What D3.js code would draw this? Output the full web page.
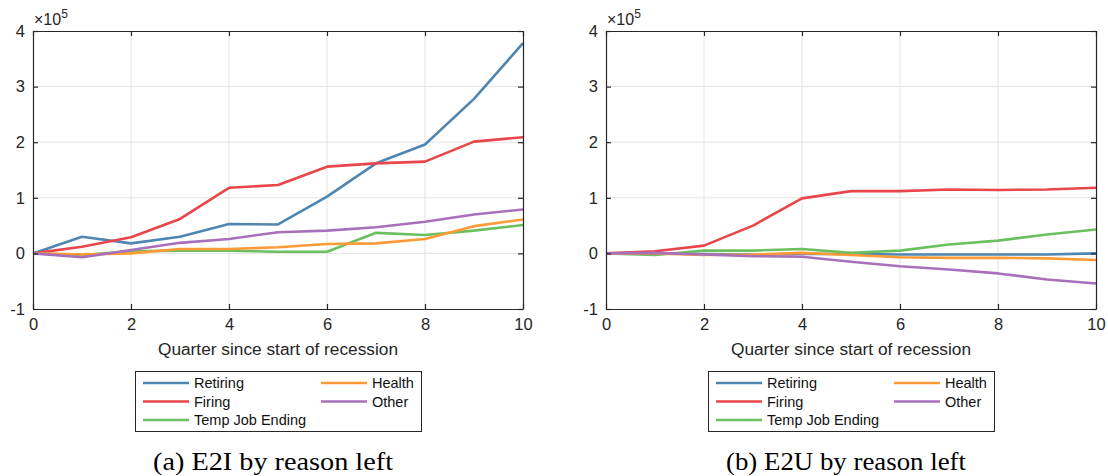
<!DOCTYPE html>
<html>
<head>
<meta charset="utf-8">
<script src="https://cdn.jsdelivr.net/npm/d3@7"></script>
<style>
  html, body { margin: 0; padding: 0; background: #fff; }
  svg { display: block; }
</style>
</head>
<body>
<svg id="chart" width="1108" height="476"></svg>
<script>
// Quarters since the start of the recession
const quarters = [0, 1, 2, 3, 4, 5, 6, 7, 8, 9, 10];

// Reasons for leaving a job (series names)
const reasons = ["Retiring", "Firing", "Temp Job Ending", "Health", "Other"];
const reasonColors = ["#4f86b1", "#e9464b", "#6cbf60", "#ff9a36", "#a86fbb"];

// Panel (a): employment to inactivity, in units of 10^5
const e2iRetiring = [0, 0.30, 0.18, 0.30, 0.53, 0.52, 1.02, 1.62, 1.96, 2.78, 3.78];
const e2iFiring   = [0, 0.12, 0.29, 0.62, 1.18, 1.23, 1.56, 1.62, 1.65, 2.01, 2.09];
const e2iTemp     = [0, -0.03, 0.04, 0.05, 0.05, 0.03, 0.03, 0.37, 0.33, 0.41, 0.51];
const e2iHealth   = [0, -0.02, 0.00, 0.08, 0.08, 0.11, 0.17, 0.18, 0.26, 0.49, 0.61];
const e2iOther    = [0, -0.07, 0.06, 0.19, 0.26, 0.38, 0.41, 0.47, 0.57, 0.70, 0.79];

// Panel (b): employment to unemployment, in units of 10^5
const e2uRetiring = [0, 0.00, -0.01, -0.02, -0.01, -0.01, -0.02, -0.02, -0.02, -0.02, 0.00];
const e2uFiring   = [0, 0.04, 0.14, 0.50, 0.99, 1.12, 1.12, 1.15, 1.14, 1.15, 1.18];
const e2uTemp     = [0, -0.03, 0.05, 0.05, 0.08, 0.01, 0.05, 0.16, 0.23, 0.34, 0.43];
const e2uHealth   = [0, 0.00, -0.03, -0.02, 0.01, -0.03, -0.07, -0.08, -0.08, -0.09, -0.12];
const e2uOther    = [0, 0.01, -0.02, -0.05, -0.06, -0.15, -0.23, -0.29, -0.36, -0.47, -0.54];

// Axis ticks
const xTicks = [0, 2, 4, 6, 8, 10];
const yTicks = [-1, 0, 1, 2, 3, 4];

const xLabel = "Quarter since start of recession";
const captions = ["(a) E2I by reason left", "(b) E2U by reason left"];

const panels = [
  { left: 33, caption: captions[0],
    series: [e2iRetiring, e2iFiring, e2iTemp, e2iHealth, e2iOther] },
  { left: 606, caption: captions[1],
    series: [e2uRetiring, e2uFiring, e2uTemp, e2uHealth, e2uOther] }
];

const svg = d3.select("#chart");
const plotW = 490, plotTop = 31, plotBottom = 309;
const axisColor = "#262626";
const sans = "'Liberation Sans', Arial, Helvetica, sans-serif";
const fmt = d => String(d);   // plain hyphen for negatives

panels.forEach(p => {
  const g = svg.append("g");
  const x = d3.scaleLinear().domain([0, 10]).range([p.left, p.left + plotW]);
  const y = d3.scaleLinear().domain([-1, 4]).range([plotBottom, plotTop]);

  // grid
  g.append("g").selectAll("line").data(xTicks.slice(1, -1)).join("line")
    .attr("x1", d => x(d)).attr("x2", d => x(d))
    .attr("y1", plotTop).attr("y2", plotBottom)
    .attr("stroke", "#e3e3e3").attr("stroke-width", 1);
  g.append("g").selectAll("line").data(yTicks.slice(1, -1)).join("line")
    .attr("x1", x(0)).attr("x2", x(10))
    .attr("y1", d => y(d)).attr("y2", d => y(d))
    .attr("stroke", "#e3e3e3").attr("stroke-width", 1);

  // series
  const line = d3.line().x((d, i) => x(quarters[i])).y(d => y(d));
  p.series.forEach((s, k) => {
    g.append("path").datum(s)
      .attr("d", line)
      .attr("fill", "none")
      .attr("stroke", reasonColors[k])
      .attr("stroke-width", 2.6)
      .attr("stroke-linejoin", "round");
  });

  // axes (box with inward ticks)
  const bottom = d3.axisBottom(x).tickValues(xTicks).tickSize(-5).tickSizeOuter(0).tickPadding(9).tickFormat(fmt);
  const top = d3.axisTop(x).tickValues(xTicks).tickSize(-5).tickSizeOuter(0).tickFormat("");
  const leftAx = d3.axisLeft(y).tickValues(yTicks).tickSize(-5).tickSizeOuter(0).tickPadding(8).tickFormat(fmt);
  const rightAx = d3.axisRight(y).tickValues(yTicks).tickSize(-5).tickSizeOuter(0).tickFormat("");

  const axes = [
    g.append("g").attr("transform", `translate(0,${plotBottom})`).call(bottom),
    g.append("g").attr("transform", `translate(0,${plotTop})`).call(top),
    g.append("g").attr("transform", `translate(${x(0)},0)`).call(leftAx),
    g.append("g").attr("transform", `translate(${x(10)},0)`).call(rightAx)
  ];
  axes.forEach(a => {
    a.select(".domain").attr("stroke", axisColor).attr("stroke-width", 1.2);
    a.selectAll(".tick line").attr("stroke", axisColor).attr("stroke-width", 1.2);
    a.selectAll(".tick text").attr("fill", axisColor)
      .style("font-family", sans).style("font-size", "16.5px");
  });

  // exponent label
  const ex = g.append("text").attr("x", x(0) + 1).attr("y", 25)
    .attr("fill", axisColor).style("font-family", sans).style("font-size", "16px");
  ex.append("tspan").text("\u00d710");
  ex.append("tspan").attr("dy", -7).style("font-size", "12px").text("5");

  // x axis title
  g.append("text").attr("x", x(5)).attr("y", 355)
    .attr("text-anchor", "middle").attr("fill", axisColor)
    .style("font-family", sans).style("font-size", "17.3px").text(xLabel);

  // legend
  const lg = g.append("g").attr("transform", `translate(${x(5) - 143},371)`);
  lg.append("rect").attr("x", 0.5).attr("y", 0.5).attr("width", 286).attr("height", 60)
    .attr("fill", "#fff").attr("stroke", axisColor).attr("stroke-width", 1);
  const cols = [0, 178];
  const order = [
    { k: 0, col: 0, row: 0 }, { k: 3, col: 1, row: 0 },
    { k: 1, col: 0, row: 1 }, { k: 4, col: 1, row: 1 },
    { k: 2, col: 0, row: 2 }
  ];
  order.forEach(o => {
    const ly = 12 + o.row * 18.5;
    const lx = 8 + cols[o.col];
    lg.append("line").attr("x1", lx).attr("x2", lx + 46)
      .attr("y1", ly).attr("y2", ly)
      .attr("stroke", reasonColors[o.k]).attr("stroke-width", 2.6);
    lg.append("text").attr("x", lx + 51).attr("y", ly + 5)
      .attr("fill", "#111").style("font-family", sans).style("font-size", "14.5px")
      .text(reasons[o.k]);
  });

  // caption
  g.append("text").attr("x", x(5) - 5).attr("y", 470)
    .attr("text-anchor", "middle").attr("fill", "#000")
    .attr("textLength", 240).attr("lengthAdjust", "spacingAndGlyphs")
    .style("font-family", "'Liberation Serif', 'DejaVu Serif', serif").style("font-size", "25px")
    .text(p.caption);
});
</script>
</body>
</html>
